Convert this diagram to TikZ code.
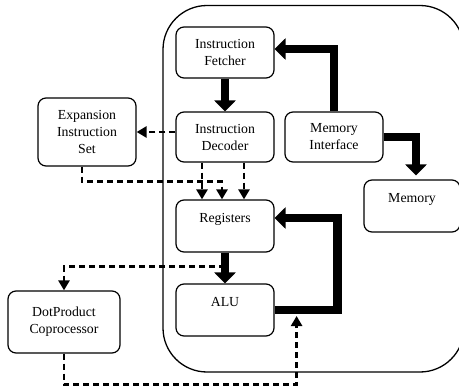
\documentclass[tikz,border=0pt]{standalone}
\usepackage{fontspec}
\setmainfont{Liberation Serif}
\usetikzlibrary{arrows.meta}

\tikzset{
  unit/.style={draw, line width=1.2pt, rounded corners=8pt, align=center,
    inner sep=0pt, minimum width=98pt, minimum height=51pt,
    font=\fontsize{13.8}{17}\selectfont},
  bigflow/.style={line width=8.5pt, line join=miter,
    -{Triangle[width=21pt,length=11pt]}},
  ctrlflow/.style={line width=2.6pt, dash pattern=on 6pt off 4pt,
    -{Triangle[width=11pt,length=10pt]}},
}

\begin{document}
\begin{tikzpicture}[x=1pt, y=-1pt]
\useasboundingbox (0,0) rectangle (459,388);
\clip (0,0) rectangle (459,388);

% processor core outline
\draw[line width=1.3pt, rounded corners=44pt] (163,5.5) rectangle (464,372);

% functional units
\node[unit] (fetch) at (225,52.5) {Instruction\\Fetcher};
\node[unit, minimum height=50pt] (dec) at (225,137) {Instruction\\Decoder};
\node[unit, minimum height=50pt] (mi) at (334,137) {Memory\\Interface};
\node[unit, minimum height=68pt] (exp) at (87,132) {Expansion\\Instruction\\Set};
\node[unit, minimum height=52pt] (reg) at (225,226) {Registers\\\mbox{}};
\node[unit, minimum height=52pt] (alu) at (225,310) {ALU\\\mbox{}};
\node[unit, minimum width=96pt, minimum height=52pt] (mem) at (412,206) {Memory\\\mbox{}};
\node[unit, minimum width=112pt, minimum height=62pt] (dot) at (64,322) {DotProduct\\Coprocessor};

\coordinate (feed) at ([xshift=22pt,yshift=-6pt]alu.east);

% main data paths
\draw[bigflow] (fetch.south) -- (dec.north);
\draw[bigflow] (mi.north) |- ([yshift=3.5pt]fetch.east);
\draw[bigflow, shorten >=4pt] (mi.east) -| ([xshift=4pt]mem.north);
\draw[bigflow] (reg.south) -- (alu.north);
\draw[bigflow] (alu.east) -- ++(63,0) |- ([yshift=8pt]reg.east);

% extension paths
\draw[ctrlflow] (dec.west |- exp.east) -- (exp.east);
\draw[ctrlflow] ([xshift=-23pt]dec.south) -- ([xshift=-23pt]reg.north);
\draw[ctrlflow] ([xshift=19pt]dec.south) -- ([xshift=19pt]reg.north);
\draw[ctrlflow] ([xshift=-5pt]exp.south) -- ++(0,15) -| ([xshift=-3pt]reg.north);
\draw[ctrlflow] ([yshift=-14pt]reg.south) -| (dot.north);
\draw[ctrlflow] (dot.south) -- ++(0,31) -| (feed);
\end{tikzpicture}
\end{document}
